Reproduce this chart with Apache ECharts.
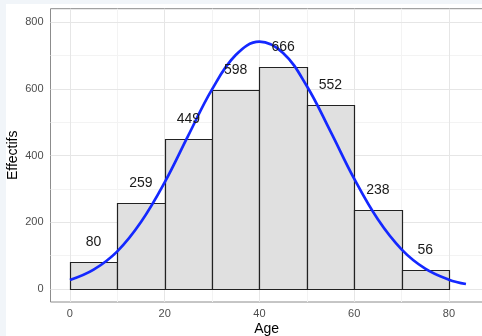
<!DOCTYPE html>
<html>
<head>
<meta charset="utf-8">
<script src="https://cdn.jsdelivr.net/npm/echarts@6/dist/echarts.min.js"></script>
<style>
  html, body { margin: 0; padding: 0; background: #f1f5f9; }
  #bg { position: absolute; left: 6px; top: 4px; right: 0; bottom: 0; background: #ffffff; }
  #chart { position: absolute; left: 0; top: 0; width: 482px; height: 336px; }
</style>
</head>
<body>
<div id="bg"></div>
<div id="chart"></div>
<script>
// ---- data ----
const binEdges = [0, 10, 20, 30, 40, 50, 60, 70, 80];
const counts = [80, 259, 449, 598, 666, 552, 238, 56];
const curveX = [0, 5, 10, 15, 20, 25, 30, 35, 40, 45, 50, 55, 60, 65, 70, 75, 80, 83.6];
const curveY = [27, 58, 113, 201, 320, 461, 599, 702, 742, 708, 609, 473, 331, 209, 119, 61, 28, 15];
const xTicks = [0, 20, 40, 60, 80];
const xMinor = [10, 30, 50, 70];
const yTicks = [0, 200, 400, 600, 800];
const yMinor = [100, 300, 500, 700];
const xTitle = 'Age';
const yTitle = 'Effectifs';

const FONT = '"Liberation Sans", Arial, Helvetica, sans-serif';
const chart = echarts.init(document.getElementById('chart'), null, { renderer: 'canvas' });

const gridLines = [];
xMinor.forEach(v => gridLines.push({ xAxis: v, lineStyle: { color: '#f3f3f3', width: 1, type: 'solid' } }));
yMinor.forEach(v => gridLines.push({ yAxis: v, lineStyle: { color: '#f3f3f3', width: 1, type: 'solid' } }));
xTicks.forEach(v => gridLines.push({ xAxis: v, lineStyle: { color: '#e6e6e6', width: 1, type: 'solid' } }));
yTicks.forEach(v => gridLines.push({ yAxis: v, lineStyle: { color: '#e6e6e6', width: 1, type: 'solid' } }));

const barData = counts.map((c, i) => [binEdges[i], binEdges[i + 1], c]);
const snap = v => Math.round(v) + 0.5;

chart.setOption({
  animation: false,
  backgroundColor: 'transparent',
  grid: {
    left: 50.5, top: 8.7, right: -1, bottom: 34,
    outerBoundsMode: 'none',
    show: true, borderColor: '#8c8c8c', borderWidth: 1, backgroundColor: 'transparent',
    containLabel: false
  },
  graphic: [
    { type: 'text', x: 266.7, y: 329, z: 20, silent: true,
      style: { text: xTitle, font: '14px ' + FONT, fill: '#000', align: 'center', verticalAlign: 'middle' } },
    { type: 'text', x: 13.5, y: 155.3, rotation: Math.PI / 2, z: 20, silent: true,
      style: { text: yTitle, font: '14px ' + FONT, fill: '#000', align: 'center', verticalAlign: 'middle' } }
  ],
  xAxis: {
    type: 'value', min: -4.1, max: 87.2,
    axisLine: { show: false },
    splitLine: { show: false },
    axisTick: { show: true, customValues: xTicks, length: 3, lineStyle: { color: '#333', width: 1 } },
    axisLabel: { customValues: xTicks, margin: 6, fontFamily: FONT, fontSize: 11, color: '#4d4d4d' }
  },
  yAxis: {
    type: 'value', min: -39, max: 841,
    axisLine: { show: false },
    splitLine: { show: false },
    axisTick: { show: true, customValues: yTicks, length: 3, lineStyle: { color: '#333', width: 1 } },
    axisLabel: { customValues: yTicks, margin: 7, fontFamily: FONT, fontSize: 11, color: '#4d4d4d' }
  },
  series: [
    {
      type: 'line', data: [], z: 1, silent: true,
      markLine: { z: 1, silent: true, symbol: ['none', 'none'], label: { show: false }, animation: false, data: gridLines }
    },
    {
      type: 'custom', z: 10, silent: true,
      data: barData,
      encode: { x: [0, 1], y: 2 },
      renderItem: function (params, api) {
        const p0 = api.coord([api.value(0), api.value(2)]);
        const p1 = api.coord([api.value(1), 0]);
        const x0 = snap(p0[0]), y0 = snap(p0[1]), x1 = snap(p1[0]), y1 = snap(p1[1]);
        return {
          type: 'rect',
          shape: { x: x0, y: y0, width: x1 - x0, height: y1 - y0 },
          style: { fill: '#e0e0e0', stroke: '#222', lineWidth: 1.2 }
        };
      }
    },
    {
      type: 'line', z: 11, silent: true, smooth: 0.4, showSymbol: false,
      data: curveX.map((x, i) => [x, curveY[i]]),
      lineStyle: { color: '#1428ff', width: 2.7 }
    },
    {
      type: 'custom', z: 12, silent: true,
      data: barData,
      encode: { x: [0, 1], y: 2 },
      renderItem: function (params, api) {
        const c = api.value(2);
        const p = api.coord([(api.value(0) + api.value(1)) / 2, c]);
        return {
          type: 'text',
          x: p[0], y: p[1] - 20,
          style: { text: String(c), fill: '#1a1a1a', font: '14px ' + FONT, align: 'center', verticalAlign: 'middle' }
        };
      }
    }
  ]
});
</script>
</body>
</html>
